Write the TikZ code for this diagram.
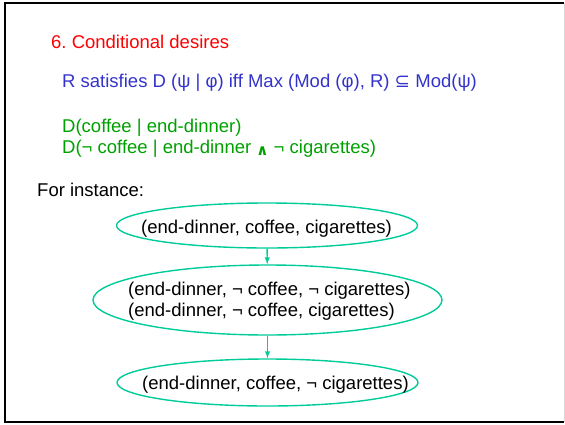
\documentclass[tikz,border=0pt]{standalone}
\usepackage{fontspec}
\setmainfont{Liberation Sans}
\newfontfamily\symbfont{DejaVu Sans}
\usetikzlibrary{shapes.geometric}
\definecolor{heading}{RGB}{255,0,0}
\definecolor{rule}{RGB}{51,51,204}
\definecolor{desire}{RGB}{0,160,0}
\definecolor{worldline}{RGB}{0,204,153}
\newcommand{\negsym}{\textlnot}
\frenchspacing
\tikzstyle{textline}=[anchor=base west,font=\fontsize{18.5}{21}\selectfont,inner sep=0pt]
\tikzstyle{models}=[ellipse,draw=worldline,line width=1.4pt,inner sep=0pt]
\tikzstyle{pref}=[-latex,line width=1.4pt,color=worldline]

\begin{document}
\begin{tikzpicture}[x=1pt,y=-1pt]
  \useasboundingbox (0,0) rectangle (565,424);
  %% Frame
  \draw[line width=1.5pt] (564,3) -- (5,3) -- (5,422) -- (564,422);
  \draw[gray!30,line width=1pt] (564,3) -- (564,422);

  \node[textline,text=heading] (title) at (51,48) {6. Conditional desires};
  \node[textline,text=rule] (satisfies) at (62,87) {R satisfies D (ψ | φ) iff Max (Mod (φ), R) {\symbfont ⊆} Mod(ψ)};
  \node[textline,text=desire] (d1) at (62,132) {D(coffee | end-dinner)};
  \node[textline,text=desire] (d2) at (62,153) {D(\negsym{} coffee | end-dinner \raisebox{-2.5pt}{\symbfont\fontsize{15}{15}\selectfont\bfseries ∧} \negsym{} cigarettes)};
  \node[textline] (instance) at (37,196) {For instance:};

  %% Preference order of the models
  \draw (267,225.5) node[models,minimum width=301pt,minimum height=45pt] (e1) {};
  \draw (267.5,300) node[models,minimum width=349pt,minimum height=70pt] (e2) {};
  \draw (267.5,382.5) node[models,minimum width=301pt,minimum height=47pt] (e3) {};

  \node[textline] (w1) at (141,233) {(end-dinner, coffee, cigarettes)};
  \node[textline] (w2) at (128,295) {(end-dinner, \negsym{} coffee, \negsym{} cigarettes)};
  \node[textline] (w3) at (128,316) {(end-dinner, \negsym{} coffee, cigarettes)};
  \node[textline] (w4) at (142,389) {(end-dinner, coffee, \negsym{} cigarettes)};

  \draw[pref] (e1) -- (e2);
  \draw[pref] (e2) -- (e3);
\end{tikzpicture}
\end{document}
